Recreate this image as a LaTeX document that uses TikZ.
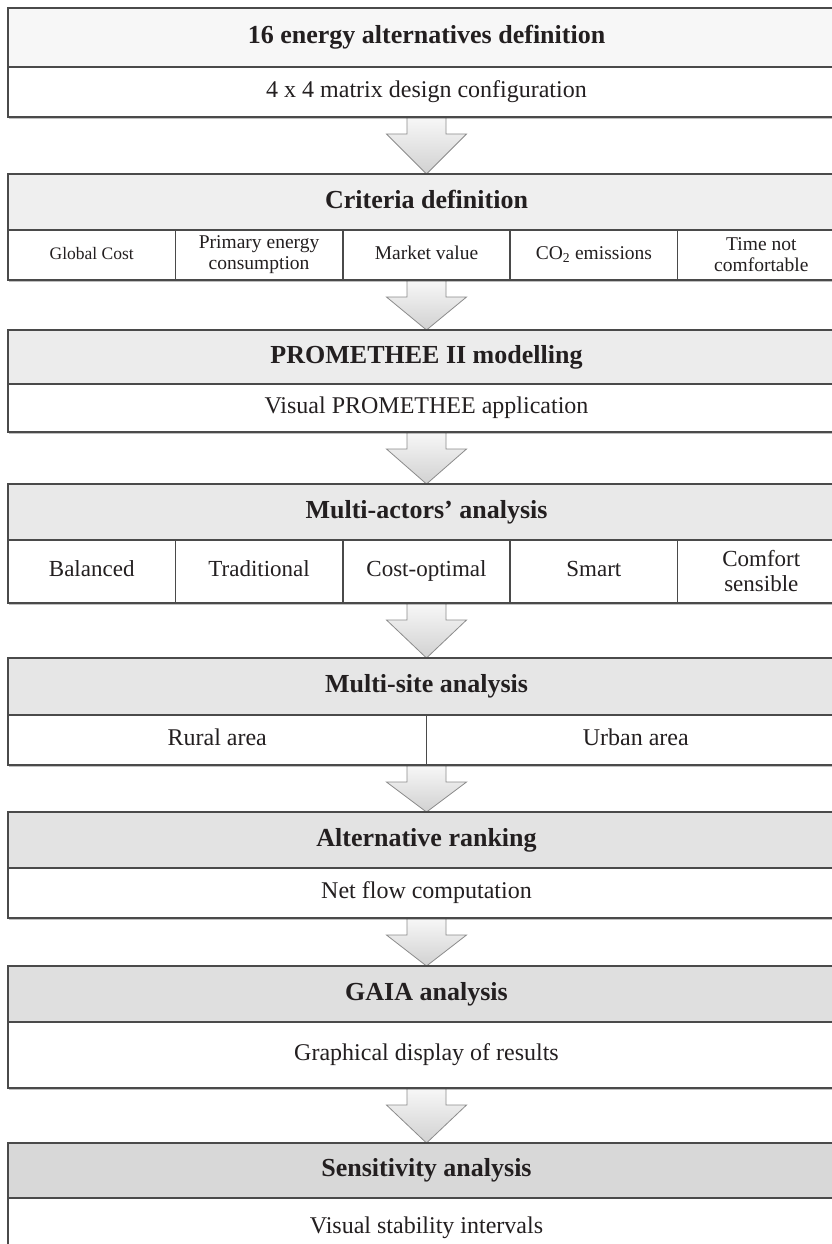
\documentclass[tikz,border=0pt]{standalone}
\usepackage{fontspec}
\setmainfont{Liberation Serif}
\usetikzlibrary{calc,shadows}
\pgfdeclarelayer{bg}
\pgfsetlayers{bg,main}
\definecolor{hA}{HTML}{F7F7F7}
\definecolor{hB}{HTML}{EFEFEF}
\definecolor{hC}{HTML}{ECECEC}
\definecolor{hD}{HTML}{E9E9E9}
\definecolor{hE}{HTML}{E6E6E6}
\definecolor{hF}{HTML}{E3E3E3}
\definecolor{hG}{HTML}{DFDFDF}
\definecolor{hH}{HTML}{D8D8D8}
\definecolor{ink}{HTML}{231F20}
\definecolor{frame}{HTML}{4A4A4A}
\tikzset{
  boxframe/.style={draw=frame, line width=1.5pt, fill=white, minimum width=837pt,
    inner sep=0pt, outer sep=0pt, anchor=north west,
    drop shadow={shadow xshift=0.5pt, shadow yshift=-1.6pt, opacity=0.25, fill=black}},
  hdr/.style={draw=frame, line width=1.5pt, minimum width=837pt, inner sep=0pt, outer sep=0pt,
    anchor=north, text=ink, text height=17.7pt, text depth=5.7pt,
    font=\fontsize{26}{30}\selectfont\bfseries},
  rowcell/.style={draw=frame, line width=1.5pt, inner sep=0pt, outer sep=0pt, align=center,
    text=ink, font=\fontsize{24}{27}\selectfont},
  oneline/.style={text height=16.3pt, text depth=5.3pt},
  fullrow/.style={rowcell, oneline, minimum width=837pt, anchor=north},
  fifth/.style={rowcell, minimum width=167.4pt, anchor=north west},
  half/.style={rowcell, oneline, minimum width=418.5pt, anchor=north west},
  crit/.style={font=\fontsize{19.5}{21}\selectfont},
  critone/.style={crit, text height=13.3pt, text depth=4.3pt},
  actor/.style={font=\fontsize{23}{25}\selectfont},
  actorone/.style={actor, text height=15.6pt, text depth=5.1pt},
  flowarrow/.style={draw=black!45, line width=0.8pt, top color=black!3, bottom color=black!18},
}
\newcommand\flowarr[2]{%
  \begin{pgfonlayer}{bg}
  \path[flowarrow] ($(#1.south)+(-19.5pt,0)$) -- ($(#1.south)+(-19.5pt,-17pt)$)
    -- ($(#1.south)+(-40pt,-17pt)$) -- (#2.north) -- ($(#1.south)+(40pt,-17pt)$)
    -- ($(#1.south)+(19.5pt,-17pt)$) -- ($(#1.south)+(19.5pt,0)$);
  \end{pgfonlayer}}
\begin{document}
\begin{tikzpicture}[x=1pt,y=1pt]
\begin{pgfonlayer}{bg}
\fill[white] (0,0) rectangle (832,-1244);
\end{pgfonlayer}
\useasboundingbox (0,0) rectangle (832,-1244);

% Box 1
\node[boxframe, minimum height=109pt] (b1) at (8,-8) {};
\node[hdr, fill=hA, minimum height=59pt] (h1) at (b1.north) {16 energy alternatives definition};
\node[fullrow, minimum height=50pt] (r1) at (h1.south) {4 x 4 matrix design configuration};

% Box 2
\node[boxframe, minimum height=106pt] (b2) at (8,-174) {};
\node[hdr, fill=hB, minimum height=56pt] (h2) at (b2.north) {Criteria definition};
\node[fifth, minimum height=50pt, font=\fontsize{17.5}{21}\selectfont, text height=11.9pt, text depth=3.9pt] (c21) at (h2.south west) {Global Cost};
\node[fifth, crit, minimum height=50pt] (c22) at (c21.north east) {Primary energy\\consumption};
\node[fifth, critone, minimum height=50pt] (c23) at (c22.north east) {Market value};
\node[fifth, critone, minimum height=50pt] (c24) at (c23.north east) {CO\textsubscript{2} emissions};
\node[fifth, crit, minimum height=50pt] (c25) at (c24.north east) {Time not\\comfortable};

% Box 3
\node[boxframe, minimum height=102pt] (b3) at (8,-330) {};
\node[hdr, fill=hC, minimum height=54pt] (h3) at (b3.north) {PROMETHEE II modelling};
\node[fullrow, minimum height=48pt] (r3) at (h3.south) {Visual PROMETHEE application};

% Box 4
\node[boxframe, minimum height=119pt] (b4) at (8,-484) {};
\node[hdr, fill=hD, minimum height=56pt] (h4) at (b4.north) {Multi-actors' analysis};
\node[fifth, actorone, minimum height=63pt] (c41) at (h4.south west) {Balanced};
\node[fifth, actorone, minimum height=63pt] (c42) at (c41.north east) {Traditional};
\node[fifth, actorone, minimum height=63pt] (c43) at (c42.north east) {Cost-optimal};
\node[fifth, actorone, minimum height=63pt] (c44) at (c43.north east) {Smart};
\node[fifth, actor, minimum height=63pt] (c45) at (c44.north east) {Comfort\\sensible};

% Box 5
\node[boxframe, minimum height=107pt] (b5) at (8,-658) {};
\node[hdr, fill=hE, minimum height=57pt] (h5) at (b5.north) {Multi-site analysis};
\node[half, minimum height=50pt] (c51) at (h5.south west) {Rural area};
\node[half, minimum height=50pt] (c52) at (c51.north east) {Urban area};

% Box 6
\node[boxframe, minimum height=106pt] (b6) at (8,-812) {};
\node[hdr, fill=hF, minimum height=56pt] (h6) at (b6.north) {Alternative ranking};
\node[fullrow, minimum height=50pt] (r6) at (h6.south) {Net flow computation};

% Box 7
\node[boxframe, minimum height=122pt] (b7) at (8,-966) {};
\node[hdr, fill=hG, minimum height=56pt] (h7) at (b7.north) {GAIA analysis};
\node[fullrow, minimum height=66pt] (r7) at (h7.south) {Graphical display of results};

% Box 8
\node[boxframe, minimum height=115pt] (b8) at (8,-1143) {};
\node[hdr, fill=hH, minimum height=55pt] (h8) at (b8.north) {Sensitivity analysis};
\node[fullrow, minimum height=60pt] (r8) at (h8.south) {Visual stability intervals};

% Arrows
\flowarr{b1}{b2}
\flowarr{b2}{b3}
\flowarr{b3}{b4}
\flowarr{b4}{b5}
\flowarr{b5}{b6}
\flowarr{b6}{b7}
\flowarr{b7}{b8}
\end{tikzpicture}
\end{document}
